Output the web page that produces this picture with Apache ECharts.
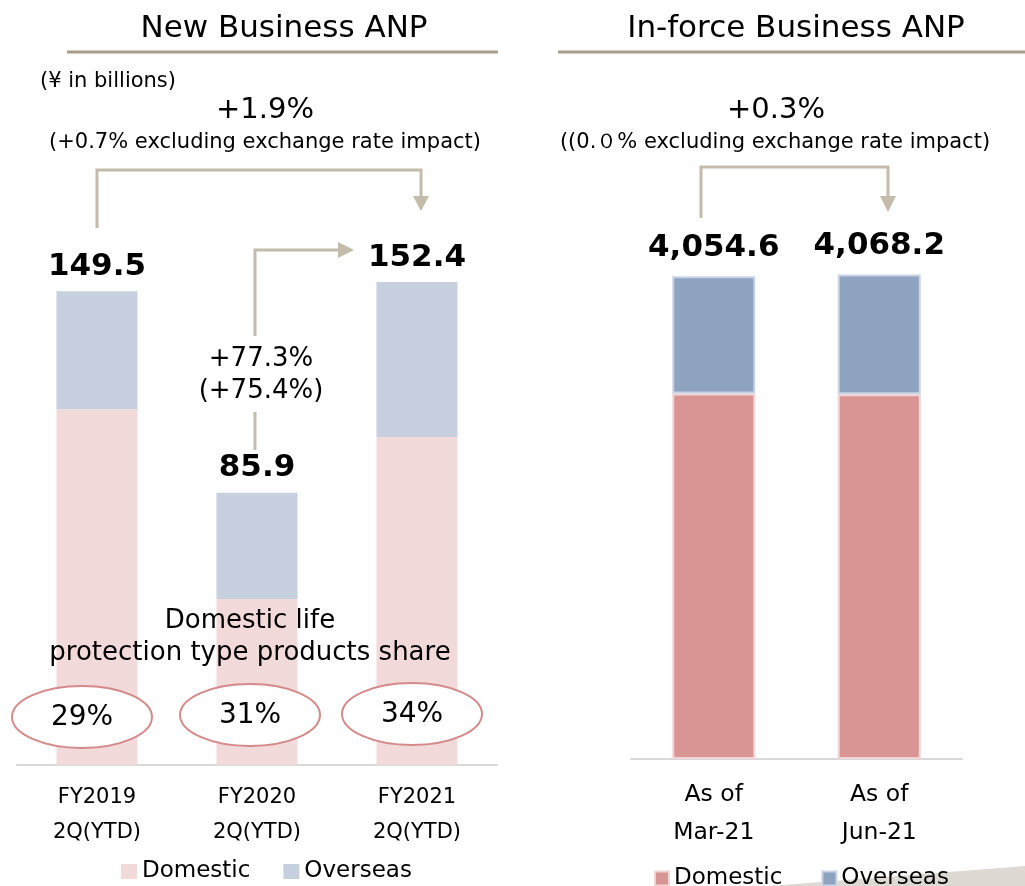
<!DOCTYPE html>
<html>
<head>
<meta charset="utf-8">
<script src="https://cdn.jsdelivr.net/npm/echarts@6/dist/echarts.min.js"></script>
<style>
  html, body { margin: 0; padding: 0; background: #fff; }
  #chart { width: 1025px; height: 886px; }
</style>
</head>
<body>
<div id="chart"></div>
<script>
// New business ANP (¥ in billions)
const nbCategories = ["FY2019\n2Q(YTD)", "FY2020\n2Q(YTD)", "FY2021\n2Q(YTD)"];
const nbDomestic = [112.3, 52.4, 103.5];
const nbOverseas = [37.2, 33.5, 48.9];
const nbTotals = ["149.5", "85.9", "152.4"];
const nbShare = ["29%", "31%", "34%"];

// In-force business ANP
const ifCategories = ["As of\nMar-21", "As of\nJun-21"];
const ifDomestic = [3070.0, 3062.0];
const ifOverseas = [984.6, 1006.2];
const ifTotals = ["4,054.6", "4,068.2"];

const FONT = "DejaVu Sans";
const arrowColor = "#c4bcab";
const ruleColor = "#a89d8a";

const chart = echarts.init(document.getElementById("chart"));

function txt(x, y, text, size, extra) {
  return Object.assign({
    type: "text", x: x, y: y,
    style: { text: text, fontFamily: FONT, fontSize: size, fill: "#000", align: "center", verticalAlign: "middle" }
  }, extra || {});
}

const shareGraphics = [];
const ellipseCenters = [[82, 717], [250, 715], [412, 714]];
ellipseCenters.forEach(function (c, i) {
  shareGraphics.push({
    type: "ellipse", z: 10,
    shape: { cx: c[0], cy: c[1], rx: 70, ry: 31 },
    style: { fill: "#fff", stroke: "#d48a8a", lineWidth: 2 }
  });
  shareGraphics.push(Object.assign(txt(c[0], c[1] + 1, nbShare[i], 28), { z: 11 }));
});

const option = {
  animation: false,
  textStyle: { fontFamily: FONT },
  grid: [
    { left: 17, width: 480, top: 258, bottom: 121 },
    { left: 631, width: 331, top: 235, bottom: 127 }
  ],
  xAxis: [
    {
      type: "category", gridIndex: 0, data: nbCategories,
      axisLine: { lineStyle: { color: "#d9d9d9", width: 2 } },
      axisTick: { show: false },
      axisLabel: { color: "#000", fontSize: 21, lineHeight: 35, margin: 15, fontFamily: FONT }
    },
    {
      type: "category", gridIndex: 1, data: ifCategories,
      axisLine: { lineStyle: { color: "#d9d9d9", width: 2 } },
      axisTick: { show: false },
      axisLabel: { color: "#000", fontSize: 23.5, lineHeight: 38, margin: 17, fontFamily: FONT }
    }
  ],
  yAxis: [
    { type: "value", gridIndex: 0, min: 0, max: 160, show: false },
    { type: "value", gridIndex: 1, min: 0, max: 4400, show: false }
  ],
  legend: [
    {
      left: 116, top: 855, itemWidth: 16, itemHeight: 15, itemGap: 33, icon: "rect",
      data: ["Domestic", "Overseas"],
      textStyle: { fontSize: 23, color: "#000", fontFamily: FONT }
    },
    {
      left: 649, top: 862, itemWidth: 14, itemHeight: 14, itemGap: 39, icon: "rect",
      data: ["Domestic in-force", "Overseas in-force"],
      formatter: function (name) { return name.split(" ")[0]; },
      textStyle: { fontSize: 23, color: "#000", fontFamily: FONT }
    }
  ],
  series: [
    {
      name: "Domestic", type: "bar", stack: "nb", xAxisIndex: 0, yAxisIndex: 0,
      barWidth: 81, data: nbDomestic,
      itemStyle: { color: "#f2d9da" }
    },
    {
      name: "Overseas", type: "bar", stack: "nb", xAxisIndex: 0, yAxisIndex: 0,
      barWidth: 81, data: nbOverseas,
      itemStyle: { color: "#c6d0de" },
      label: {
        show: true, position: "top", distance: 9,
        formatter: function (p) { return nbTotals[p.dataIndex]; },
        fontSize: 31, fontWeight: "bold", color: "#000", fontFamily: FONT
      }
    },
    {
      name: "Domestic in-force", type: "bar", stack: "if", xAxisIndex: 1, yAxisIndex: 1,
      barWidth: 83, data: ifDomestic,
      itemStyle: { color: "#d99594", borderColor: "#f2d4d4", borderWidth: 2 }
    },
    {
      name: "Overseas in-force", type: "bar", stack: "if", xAxisIndex: 1, yAxisIndex: 1,
      barWidth: 83, data: ifOverseas,
      itemStyle: { color: "#8ea3bf", borderColor: "#c9d3e3", borderWidth: 2 },
      label: {
        show: true, position: "top", distance: 13,
        formatter: function (p) { return ifTotals[p.dataIndex]; },
        fontSize: 31, fontWeight: "bold", color: "#000", fontFamily: FONT
      }
    }
  ],
  graphic: [
    // background decoration in the slide corner
    { type: "polygon", z: -10, shape: { points: [[770, 886], [1025, 866], [1025, 886]] }, style: { fill: "#dedad3" } },

    // panel titles
    txt(284, 29, "New Business ANP", 31),
    { type: "line", shape: { x1: 67, y1: 52, x2: 498, y2: 52 }, style: { stroke: ruleColor, lineWidth: 3 } },
    txt(796, 29, "In-force Business ANP", 31),
    { type: "line", shape: { x1: 558, y1: 52, x2: 1025, y2: 52 }, style: { stroke: ruleColor, lineWidth: 3 } },

    txt(108, 82, "(¥ in billions)", 21),

    // growth notes
    txt(265, 110, "+1.9%", 29),
    txt(265, 143, "(+0.7% excluding exchange rate impact)", 21),
    txt(776, 110, "+0.3%", 29),
    txt(775, 143, "((0.０% excluding exchange rate impact)", 21),

    // FY2019 -> FY2021 arrow
    { type: "polyline", shape: { points: [[97, 228], [97, 170], [421, 170], [421, 198]] }, style: { stroke: arrowColor, lineWidth: 3, fill: null } },
    { type: "polygon", shape: { points: [[413, 196], [429, 196], [421, 211]] }, style: { fill: arrowColor } },

    // FY2020 -> FY2021 arrow
    { type: "polyline", shape: { points: [[255, 450], [255, 412]] }, style: { stroke: arrowColor, lineWidth: 3, fill: null } },
    { type: "polyline", shape: { points: [[255, 336], [255, 250], [340, 250]] }, style: { stroke: arrowColor, lineWidth: 3, fill: null } },
    { type: "polygon", shape: { points: [[338, 242], [338, 258], [354, 250]] }, style: { fill: arrowColor } },
    txt(261, 359, "+77.3%", 26),
    txt(261, 391, "(+75.4%)", 26),

    // Mar-21 -> Jun-21 arrow
    { type: "polyline", shape: { points: [[701, 218], [701, 167], [888, 167], [888, 198]] }, style: { stroke: arrowColor, lineWidth: 3, fill: null } },
    { type: "polygon", shape: { points: [[880, 196], [896, 196], [888, 212]] }, style: { fill: arrowColor } },

    // protection share
    Object.assign(txt(250, 621, "Domestic life", 26), { z: 11 }),
    Object.assign(txt(250, 653, "protection type products share", 26), { z: 11 })
  ].concat(shareGraphics)
};

chart.setOption(option);
</script>
</body>
</html>
